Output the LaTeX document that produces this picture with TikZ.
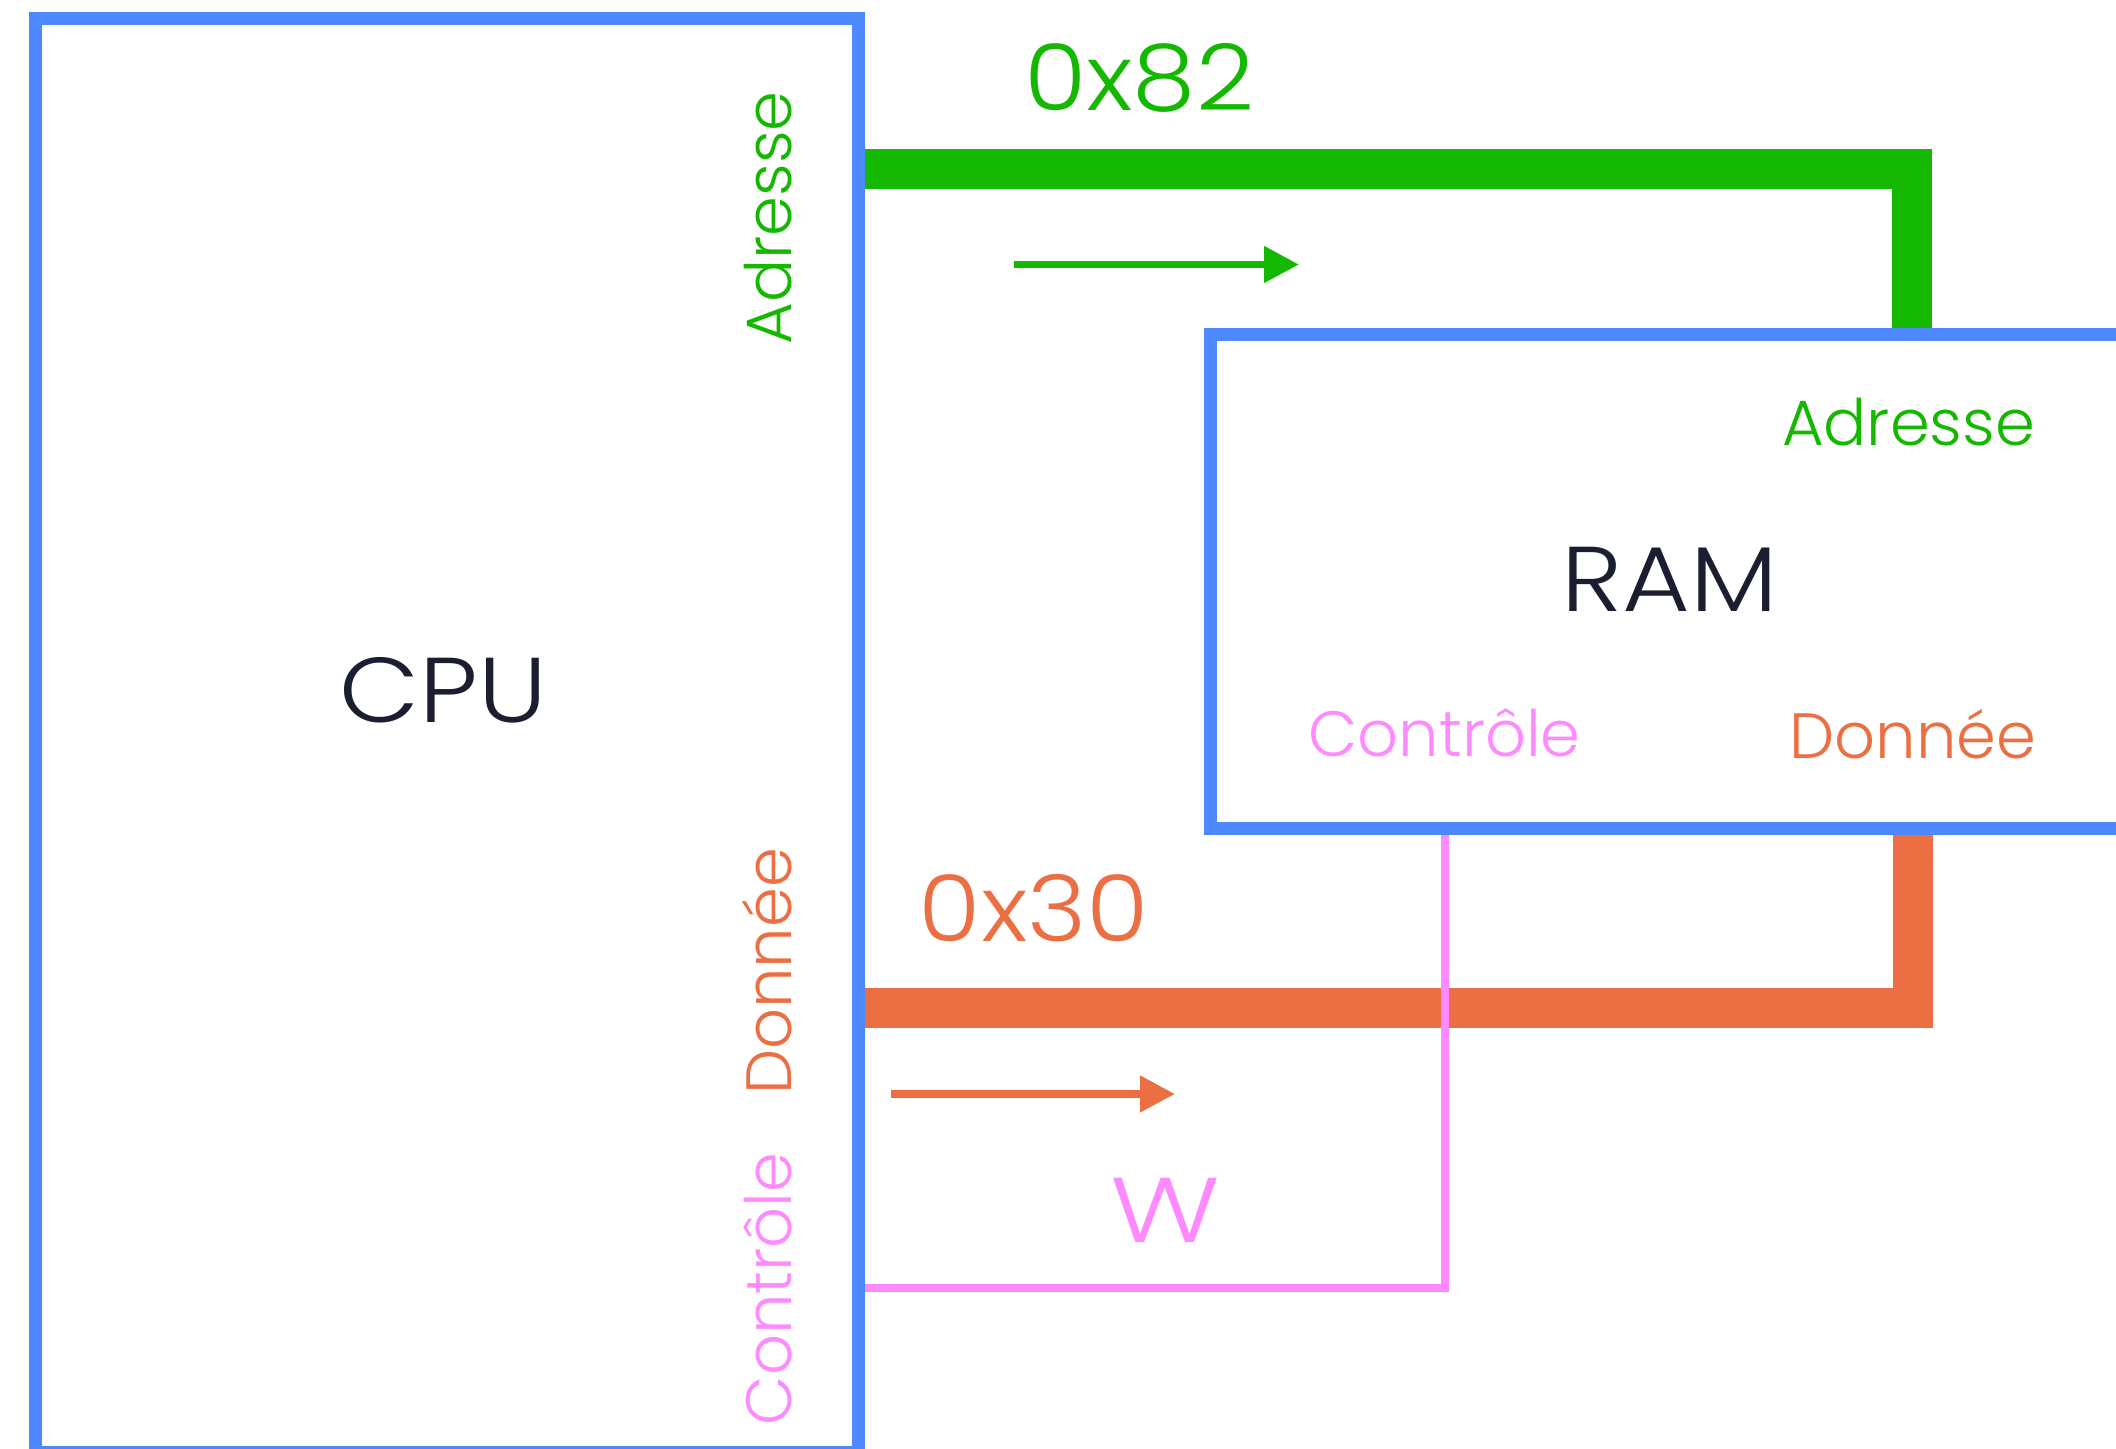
\documentclass[tikz,border=0pt]{standalone}
\usepackage{fontspec}
\setmainfont{Poppins Light}
\usetikzlibrary{arrows.meta}
\definecolor{cblue}{HTML}{4D88FF}
\definecolor{cgreen}{HTML}{15B800}
\definecolor{corange}{HTML}{EC6E43}
\definecolor{cpink}{HTML}{FF8AFF}
\definecolor{cdark}{HTML}{1B1E30}
\tikzset{
  box/.style={draw=cblue, line width=6.5pt, rectangle, inner sep=0pt},
  bigtxt/.style={font=\fontsize{46}{50}\selectfont\addfontfeatures{FakeStretch=#1}, anchor=base, inner sep=0pt},
  bigtxt/.default=1.13,
  smalltxt/.style={font=\fontsize{32}{36}\selectfont, anchor=base, inner sep=0pt},
  bus/.style={line width=20pt, line join=miter},
  ctl/.style={line width=4pt, cpink, line join=miter},
  dirarrow/.style={line width=3.8pt, -{Triangle[length=17.5pt,width=17.5pt]}}
}
\begin{document}
\begin{tikzpicture}[x=0.5pt,y=-0.5pt]
\useasboundingbox (0,0) rectangle (2116,1449);
\clip (0,0) rectangle (2116,1449);
% boxes
\node[box, minimum width=411.5pt, minimum height=716.5pt] (cpu) at (446.5,735.5) {};
\node[box, minimum width=465pt, minimum height=246.75pt] (ram) at (1675,581.25) {};
% bus anchors
\coordinate (gturn) at (1912,169);
\coordinate (oturn) at (1913,1008);
\coordinate (pturn) at (1445,1288);
% buses
\draw[bus, cgreen] (cpu.east |- gturn) -- (gturn) -- (gturn |- ram.north);
\draw[bus, corange] (cpu.east |- oturn) -- (oturn) -- (oturn |- ram.south);
\draw[ctl] (cpu.east |- pturn) -- (pturn) -- (pturn |- ram.south);
% direction arrows
\coordinate (ga0) at (1014,264.5);
\coordinate (ga1) at (1299,264.5);
\coordinate (oa0) at (891,1094);
\coordinate (oa1) at (1175,1094);
\draw[dirarrow, cgreen] (ga0) -- (ga1);
\draw[dirarrow, corange] (oa0) -- (oa1);
% texts
\node[bigtxt, text=cdark] (cputxt) at (443,722) {CPU};
\node[bigtxt, text=cdark] (ramtxt) at (1670,611) {RAM};
\node[bigtxt=1.1, text=cgreen] (addrval) at (1139,111) {0x82};
\node[bigtxt=1.1, text=corange] (dataval) at (1034,941) {0x30};
\node[bigtxt=1.25, text=cpink] (ctlval) at (1165,1242) {W};
\node[smalltxt, text=cgreen] (ramaddr) at (1908.5,446) {Adresse};
\node[smalltxt, text=cpink] (ramctl) at (1444.5,756) {Contrôle};
\node[smalltxt, text=corange] (ramdata) at (1913,758) {Donnée};
\node[smalltxt, text=cgreen, rotate=90] (cpuaddr) at (791,218) {Adresse};
\node[smalltxt, text=corange, rotate=90] (cpudata) at (791,971.5) {Donnée};
\node[smalltxt, text=cpink, rotate=90] (cpuctl) at (791,1289) {Contrôle};
\end{tikzpicture}
\end{document}
